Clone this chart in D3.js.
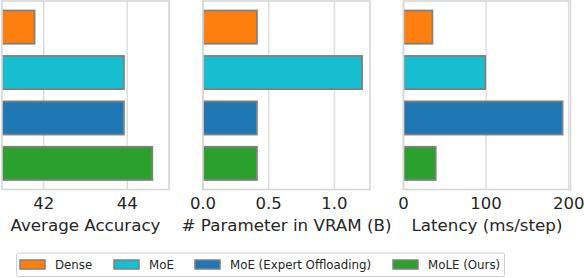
<!DOCTYPE html>
<html>
<head>
<meta charset="utf-8">
<script src="https://cdn.jsdelivr.net/npm/d3@7"></script>
<style>
  body { margin: 0; background: #fff; }
  text { font-family: "DejaVu Sans", sans-serif; fill: #262626; }
</style>
</head>
<body>
<div id="chart"></div>
<script>
// dados do gráfico
var methods = ["Dense", "MoE", "MoE (Expert Offloading)", "MoLE (Ours)"];
var colors = ["#ff7f0e", "#17becf", "#1f77b4", "#2ca02c"];
var accuracy = [41.78, 43.92, 43.92, 44.6];
var vram = [0.41, 1.21, 0.41, 0.41];
var latency = [35, 99, 192.6, 39];
var accTicks = [42, 44];
var vramTicks = [0.0, 0.5, 1.0];
var latTicks = [0, 100, 200];

var width = 584, height = 278;
var svg = d3.select("#chart").append("svg")
    .attr("width", width)
    .attr("height", height);

var panelTop = 1, panelBottom = 189.5, panelW = 167;

var panels = [
    { x0: 2,     values: accuracy, domain: [41, 45],          ticks: accTicks,  fmt: d => d,            label: "Average Accuracy" },
    { x0: 203,   values: vram,     domain: [0, 1.21 * 1.05],  ticks: vramTicks, fmt: d3.format(".1f"), label: "# Parameter in VRAM (B)" },
    { x0: 403.5, values: latency,  domain: [0, 192.6 * 1.05], ticks: latTicks,  fmt: d => d,            label: "Latency (ms/step)" }
];

var y = d3.scaleBand()
    .domain(methods)
    .range([panelTop, panelBottom])
    .paddingInner(0.27)
    .paddingOuter(0.21);

panels.forEach(function (p, k) {
    var x = d3.scaleLinear().domain(p.domain).range([p.x0, p.x0 + panelW]);
    var g = svg.append("g");

    g.append("defs").append("clipPath").attr("id", "clip" + k)
        .append("rect")
        .attr("x", p.x0).attr("y", panelTop)
        .attr("width", panelW).attr("height", panelBottom - panelTop);

    // grade vertical
    g.selectAll("line.grid")
        .data(p.ticks)
        .join("line")
        .attr("class", "grid")
        .attr("x1", d => x(d)).attr("x2", d => x(d))
        .attr("y1", panelTop).attr("y2", panelBottom)
        .attr("stroke", "#dedede")
        .attr("stroke-width", 1.5);

    // barras (começam em 0, cortadas pela área do painel)
    g.append("g").attr("clip-path", "url(#clip" + k + ")")
        .selectAll("rect")
        .data(p.values)
        .join("rect")
        .attr("x", x(0))
        .attr("y", (d, i) => y(methods[i]))
        .attr("width", d => x(d) - x(0))
        .attr("height", y.bandwidth())
        .attr("fill", (d, i) => colors[i])
        .attr("stroke", "#808080")
        .attr("stroke-width", 1.8);

    // moldura
    g.append("rect")
        .attr("x", p.x0).attr("y", panelTop)
        .attr("width", panelW).attr("height", panelBottom - panelTop)
        .attr("fill", "none")
        .attr("stroke", "#d6d6d6")
        .attr("stroke-width", 1.6);

    // rótulos dos ticks
    g.selectAll("text.tick")
        .data(p.ticks)
        .join("text")
        .attr("class", "tick")
        .attr("x", d => x(d))
        .attr("y", 209)
        .attr("text-anchor", "middle")
        .style("font-size", "16.5px")
        .text(p.fmt);

    g.append("text")
        .attr("x", p.x0 + panelW / 2)
        .attr("y", 231)
        .attr("text-anchor", "middle")
        .style("font-size", "16.7px")
        .text(p.label);
});

// legenda
var legend = svg.append("g");
legend.append("rect")
    .attr("x", 16.5).attr("y", 253)
    .attr("width", 488).attr("height", 23.5)
    .attr("rx", 2)
    .attr("fill", "#fff")
    .attr("stroke", "#d0d0d0")
    .attr("stroke-width", 1);

var legendX = [20, 114, 195, 393];
var items = legend.selectAll("g.item")
    .data(methods)
    .join("g")
    .attr("class", "item")
    .attr("transform", (d, i) => `translate(${legendX[i]},0)`);

items.append("rect")
    .attr("x", 0).attr("y", 260)
    .attr("width", 25).attr("height", 9)
    .attr("fill", (d, i) => colors[i])
    .attr("stroke", "#808080")
    .attr("stroke-width", 1.5);

items.append("text")
    .attr("x", 35).attr("y", 268.5)
    .style("font-size", "11.8px")
    .text(d => d);
</script>
</body>
</html>
